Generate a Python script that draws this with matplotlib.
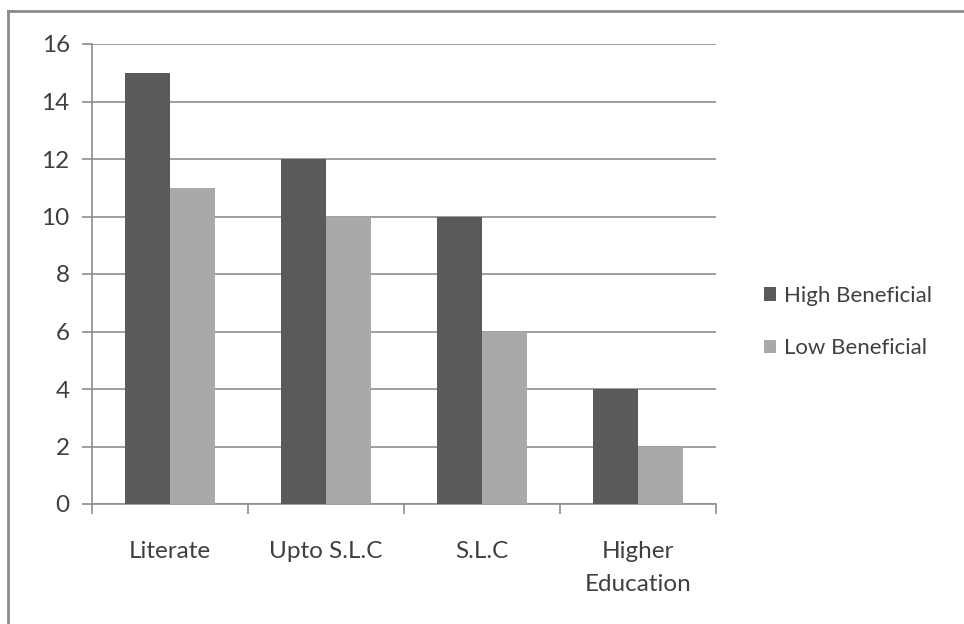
import matplotlib.pyplot as plt
from matplotlib.lines import Line2D
import numpy as np

categorias = ["Literate", "Upto S.L.C", "S.L.C", "Higher\nEducation"]
alto_beneficio = [15, 12, 10, 4]
baixo_beneficio = [11, 10, 6, 2]
series = ["High Beneficial", "Low Beneficial"]

COR_ESCURA = "#5a5a5a"
COR_CLARA = "#a9a9a9"
COR_GRADE = "#8e8e8e"
COR_TEXTO = "#404040"

plt.rcParams["font.family"] = ["Lato", "DejaVu Sans"]

fig = plt.figure(figsize=(9.64, 6.24), dpi=100)
ax = fig.add_axes([92 / 964, 1 - 504 / 624, 624 / 964, 460 / 624])

x = np.arange(len(categorias))
largura = 0.29
ax.bar(x - largura / 2, alto_beneficio, largura, color=COR_ESCURA, label=series[0], zorder=3)
ax.bar(x + largura / 2, baixo_beneficio, largura, color=COR_CLARA, label=series[1], zorder=3)

ax.set_xlim(-0.5, len(categorias) - 0.5)
ax.set_ylim(0, 16)
ax.set_yticks(range(0, 17, 2))
ax.yaxis.grid(True, color=COR_GRADE, linewidth=1.2, zorder=0)
ax.tick_params(axis="y", length=7, width=1.2, color=COR_GRADE, labelsize=17.5,
               labelcolor=COR_TEXTO, pad=9)

# marcas nas divisas entre categorias, rótulos no centro
ax.set_xticks(np.arange(-0.5, len(categorias), 1))
ax.set_xticklabels([])
ax.tick_params(axis="x", which="major", length=7, width=1.2, color=COR_GRADE)
ax.set_xticks(x, minor=True)
ax.set_xticklabels(categorias, minor=True, linespacing=1.65)
ax.tick_params(axis="x", which="minor", length=0, labelsize=17.5, labelcolor=COR_TEXTO, pad=27)

for lado in ["top", "right"]:
    ax.spines[lado].set_visible(False)
for lado in ["left", "bottom"]:
    ax.spines[lado].set_color(COR_GRADE)
    ax.spines[lado].set_linewidth(1.2)

fig.legend(loc="center left", bbox_to_anchor=(744 / 964, 1 - 322 / 624),
           frameon=False, fontsize=16, labelcolor=COR_TEXTO, handlelength=0.55,
           handleheight=0.55, handletextpad=0.35, labelspacing=1.45)

# borda superior e esquerda do quadro
fig.add_artist(Line2D([8 / 964, 1], [1 - 11 / 624, 1 - 11 / 624], color="#8a8a8a", linewidth=2))
fig.add_artist(Line2D([8 / 964, 8 / 964], [0, 1 - 11 / 624], color="#8a8a8a", linewidth=2))

fig.savefig("out.png", dpi=100)
